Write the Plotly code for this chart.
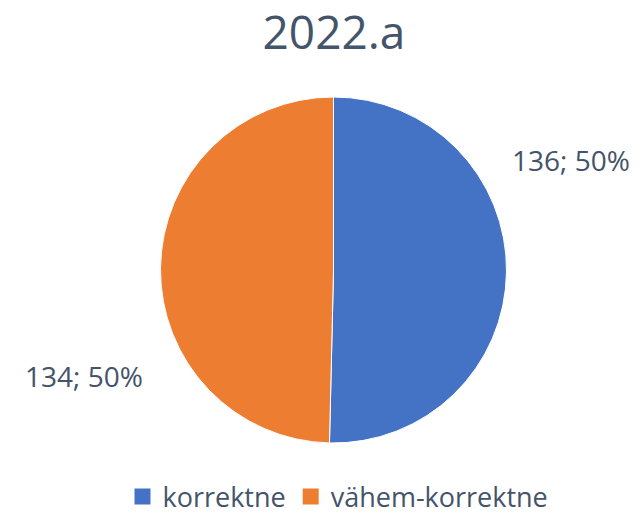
import plotly.graph_objects as go

categories = ["korrektne", "vähem-korrektne"]
values = [136, 134]
colors = ["#4472C4", "#ED7D31"]
title_text = "2022.a"

W, H = 644, 514
total = sum(values)
label_texts = [f"{v}; {round(100 * v / total)}%" for v in values]


def px(x):
    return x / W


def py(y):
    return 1 - y / H


fig = go.Figure(go.Pie(
    labels=categories,
    values=values,
    sort=False,
    direction="clockwise",
    rotation=0,
    marker=dict(colors=colors, line=dict(color="white", width=1)),
    textinfo="none",
    hoverinfo="label+value+percent",
    showlegend=False,
    domain=dict(x=[px(160), px(507)], y=[py(443), py(97)]),
))

# legend entries with square swatches
for name, col in zip(categories, colors):
    fig.add_trace(go.Scatter(x=[None], y=[None], mode="markers", name=name,
                             marker=dict(symbol="square", size=16, color=col),
                             hoverinfo="skip"))

font_color = "#44546A"
fam = "Open Sans, Noto Sans, sans-serif"

# data labels (text built from the data)
label_pos = [(px(571), py(160)), (px(84), py(376))]
for txt, (x, y) in zip(label_texts, label_pos):
    fig.add_annotation(text=txt, x=x, y=y, xref="paper", yref="paper",
                       showarrow=False, xanchor="center", yanchor="middle",
                       font=dict(size=28, color=font_color, family=fam))

fig.update_layout(
    width=W, height=H,
    margin=dict(l=0, r=0, t=0, b=0, autoexpand=False),
    paper_bgcolor="white",
    plot_bgcolor="white",
    xaxis=dict(visible=False),
    yaxis=dict(visible=False),
    title=dict(text=title_text, x=px(334), xanchor="center", y=py(33), yanchor="middle",
               font=dict(size=46, color=font_color, family=fam)),
    showlegend=True,
    legend=dict(orientation="h", x=px(338), xanchor="center", y=py(497), yanchor="middle",
                font=dict(size=27, color=font_color, family=fam),
                itemwidth=30, itemsizing="trace", traceorder="normal"),
)

fig.write_html("out.html", config={"displayModeBar": False},
               post_script="document.body.style.margin='0';")
